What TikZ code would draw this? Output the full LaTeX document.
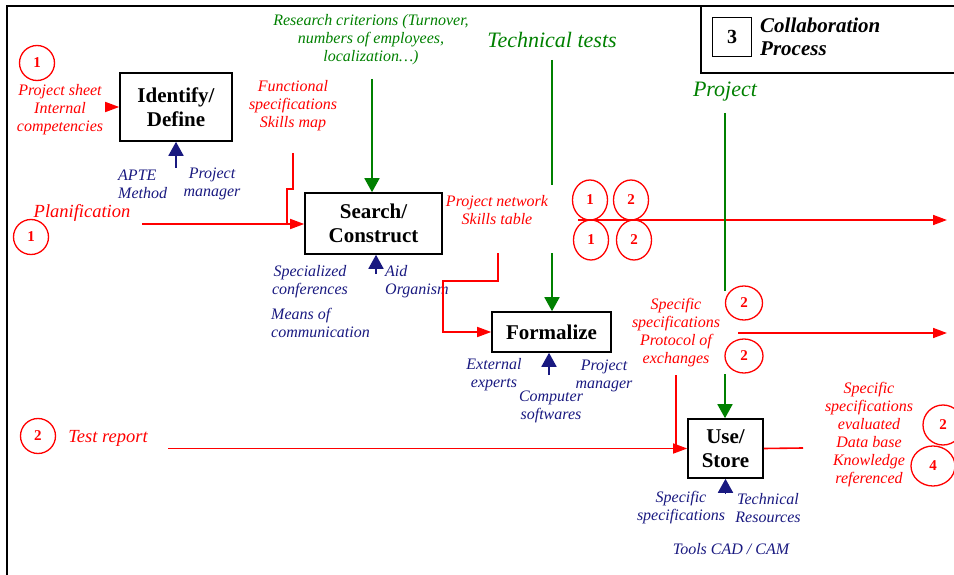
\documentclass[tikz,border=0pt]{standalone}
\usepackage{fontspec}
\setmainfont{Liberation Serif}
\usetikzlibrary{arrows.meta,shapes.geometric}
\definecolor{dkgreen}{rgb}{0,0.5,0}
\definecolor{dkblue}{rgb}{0.1,0.1,0.5}
\tikzset{
	box/.style={draw,line width=1.6pt,align=center,inner sep=0pt,font=\fontsize{21}{24}\selectfont\bfseries},
	redline/.style={red,line width=1.6pt,>={Triangle[length=14pt,width=10pt]}},
	greenline/.style={dkgreen,line width=1.8pt,>={Triangle[length=14pt,width=15pt]}},
	blueline/.style={dkblue,line width=1.8pt,>={Triangle[length=14pt,width=15pt]}},
	redtxt/.style={text=red,align=center,inner sep=0pt,font=\fontsize{16}{18}\selectfont\itshape},
	bluetxt/.style={text=dkblue,align=center,inner sep=0pt,font=\fontsize{16}{18}\selectfont\itshape},
	greentxt/.style={text=dkgreen,align=center,inner sep=0pt,font=\fontsize{16}{18}\selectfont\itshape},
	num/.style={draw=red,text=red,circle,line width=1.3pt,minimum size=35pt,inner sep=0pt,font=\fontsize{15}{16}\selectfont\bfseries},
	numell/.style={num,ellipse,minimum width=35pt,minimum height=40pt}
}
\begin{document}
\begin{tikzpicture}[x=1pt,y=-1pt]
		\useasboundingbox (0,0) rectangle (954,575);
		%frame
		\draw[line width=1.6pt] (7,575) -- (7,6) -- (954,6);
		\draw[line width=1.6pt] (701,6) -- (701,73) -- (954,73);
		\node[draw,line width=1.6pt,minimum size=39pt,inner sep=0pt,font=\fontsize{20}{20}\selectfont\bfseries] (three) at (732,37) {3};
		\node[anchor=west,align=left,inner sep=0pt,font=\fontsize{21}{23}\selectfont\bfseries\itshape] (title) at (760,37) {Collaboration\\Process};
		%boxes
		\node[box,minimum width=112pt,minimum height=68pt] (id) at (176,107) {Identify/\\Define};
		\node[box,minimum width=137pt,minimum height=61pt] (sc) at (373.5,223.5) {Search/\\Construct};
		\node[box,minimum width=119pt,minimum height=40pt] (fo) at (551.5,332) {Formalize};
		\node[box,minimum width=75pt,minimum height=59pt] (us) at (725.5,448.5) {Use/\\Store};
		%identify
		\node[num] (c1a) at (37,63) {1};
		\node[redtxt] (sheet) at (60,110) {Project sheet\\Internal\\competencies};
		\coordinate (ps) at (105,107);
		\draw[redline,->] (ps) -- (id.west);
		\coordinate (idin) at (176,168);
		\draw[blueline,->] (idin) -- (id.south);
		\node[bluetxt,anchor=west,align=left] (apte) at (118,184) {APTE\\Method};
		\node[bluetxt] (pm1) at (212,184) {Project\\manager};
		\node[redtxt] (func) at (293,106) {Functional\\specifications\\Skills map};
		%search
		\node[redtxt,font=\fontsize{18.5}{20}\selectfont\itshape] (plan) at (82,213) {Planification};
		\node[num] (c1b) at (31,237) {1};
		\coordinate (pl) at (142,224);
		\draw[redline,->] (pl) -- (pl -| sc.west);
		\coordinate (fs) at (293,153);
		\draw[redline] (fs) -- (293,189) -- (287,189) -- (287,224);
		\node[greentxt] (crit) at (371,40) {Research criterions (Turnover,\\numbers of employees,\\localization\ldots)};
		\coordinate (rc) at (372,79);
		\draw[greenline,->] (rc) -- (rc |- sc.north);
		\coordinate (scin) at (376,274);
		\draw[blueline,->] (scin) -- (scin |- sc.south);
		\node[bluetxt] (conf) at (310,282) {Specialized\\conferences};
		\node[bluetxt,anchor=west,align=left] (aid) at (385,282) {Aid\\Organism};
		\node[bluetxt,anchor=west,align=left] (means) at (271,323) {Means of\\communication};
		\node[redtxt] (net) at (497,210) {Project network\\Skills table};
		%formalize
		\coordinate (pn) at (498,253);
		\draw[redline,->] (pn) -- (498,281) -- (443,281) |- (fo.west);
		\node[greentxt,font=\fontsize{22}{24}\selectfont\itshape] (tech) at (552,40) {Technical tests};
		\coordinate (tt1) at (552,60);
		\coordinate (tt2) at (552,185);
		\coordinate (tt3) at (552,253);
		\draw[greenline] (tt1) -- (tt2);
		\draw[greenline,->] (tt3) -- (tt3 |- fo.north);
		\coordinate (foin) at (549,375);
		\draw[blueline,->] (foin) -- (foin |- fo.south);
		\node[bluetxt] (ext) at (494,375) {External\\experts};
		\node[bluetxt] (pm2) at (604,376) {Project\\manager};
		\node[bluetxt] (comp) at (551,407) {Computer\\softwares};
		%outputs 1 2
		\coordinate (o1a) at (578,220);
		\coordinate (o1b) at (947,220);
		\draw[redline,->] (o1a) -- (o1b);
		\node[numell] (e1) at (590,200) {1};
		\node[numell] (e2) at (631,200) {2};
		\node[numell] (e3) at (591,240) {1};
		\node[numell] (e4) at (634,240) {2};
		%use / store
		\node[greentxt,font=\fontsize{22}{24}\selectfont\itshape] (proj) at (725,92) {Project};
		\coordinate (pj1) at (725,113);
		\coordinate (pj2) at (725,291);
		\coordinate (pj3) at (725,374);
		\draw[greenline] (pj1) -- (pj2);
		\draw[greenline,->] (pj3) -- (pj3 |- us.north);
		\node[redtxt] (spec) at (676,333) {Specific\\specifications\\Protocol of\\exchanges};
		\node[num,ellipse,minimum width=37pt,minimum height=34pt] (f1) at (744,303) {2};
		\node[num,ellipse,minimum width=38pt,minimum height=34pt] (f2) at (744,356) {2};
		\coordinate (o2a) at (738,333);
		\coordinate (o2b) at (947,333);
		\draw[redline,->] (o2a) -- (o2b);
		\coordinate (ex) at (676,375);
		\draw[redline] (ex) -- (ex |- us.west);
		\node[num] (c2) at (38,436) {2};
		\node[redtxt,font=\fontsize{18.5}{20}\selectfont\itshape] (test) at (108,438) {Test report};
		\coordinate (tr) at (169,448);
		\draw[redline,->] (tr) -- (tr |- us.west) -- (us.west);
		\coordinate (st) at (803,448);
		\draw[redline] (us.east) -- (st);
		\coordinate (usin) at (725.5,494);
		\draw[blueline,->] (usin) -- (us.south);
		\node[bluetxt] (spec2) at (681,508) {Specific\\specifications};
		\node[bluetxt] (res) at (768,508) {Technical\\Resources};
		\node[bluetxt] (cad) at (731,549) {Tools CAD / CAM};
		\node[redtxt] (eval) at (869,435) {Specific\\specifications\\evaluated\\Data base\\Knowledge\\referenced};
		\node[num,ellipse,minimum width=40pt,minimum height=40pt] (g2) at (943,425) {2};
		\node[num,ellipse,minimum width=44pt,minimum height=40pt] (g4) at (933,466) {4};
	\end{tikzpicture}
\end{document}
